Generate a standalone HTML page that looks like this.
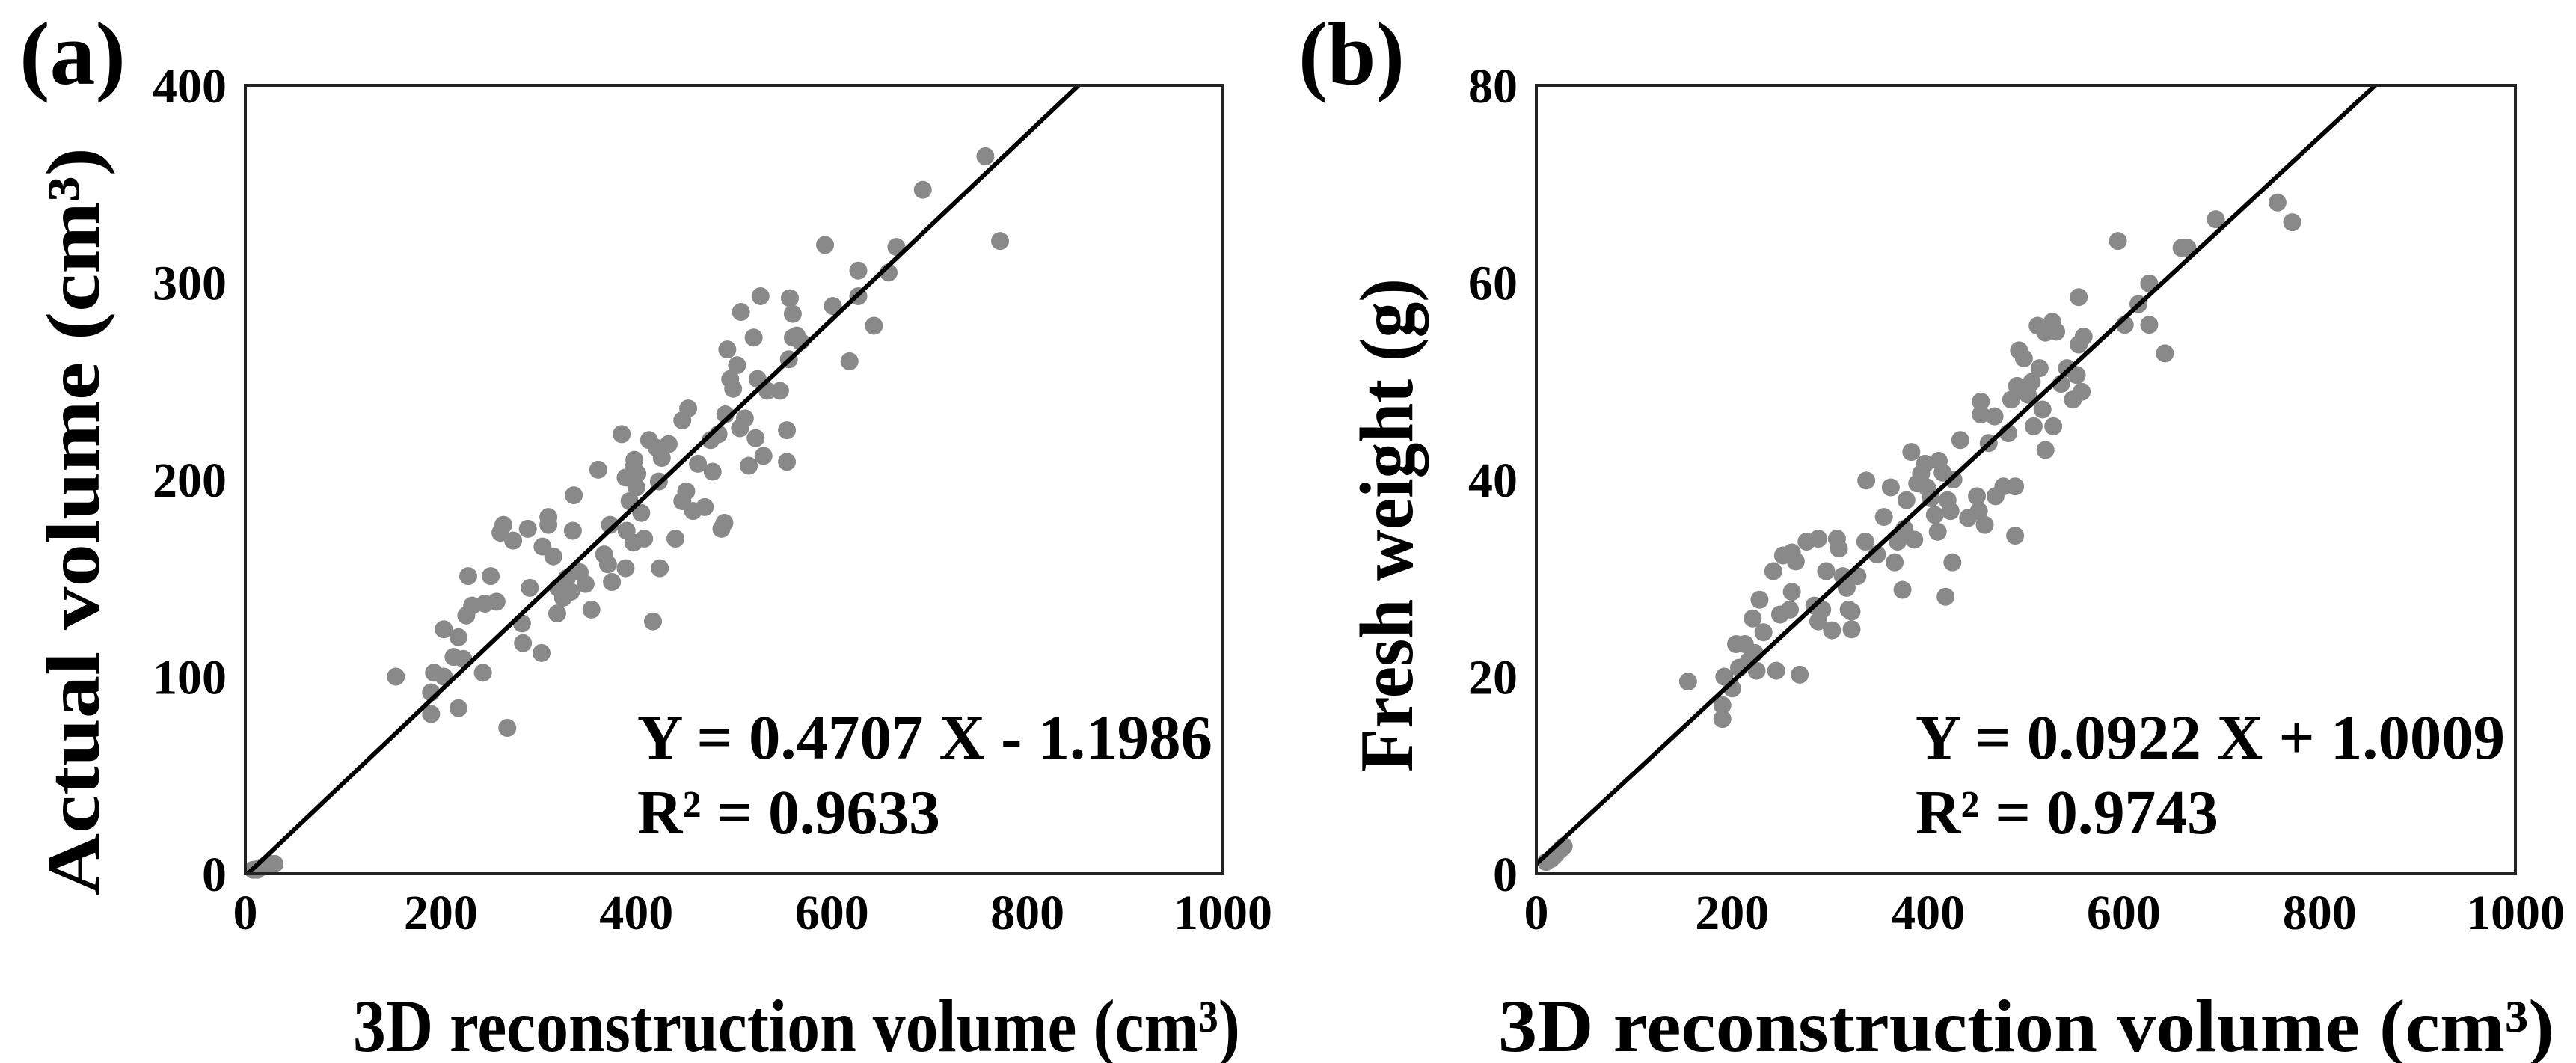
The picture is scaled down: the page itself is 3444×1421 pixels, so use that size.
<!DOCTYPE html>
<html><head><meta charset="utf-8"><style>
html,body{margin:0;padding:0;background:#fff;}
svg{display:block;font-family:"Liberation Serif","Times New Roman",serif;font-weight:bold;}
</style></head><body>
<svg id="fig" width="3444" height="1421" viewBox="0 0 3444 1421" xmlns="http://www.w3.org/2000/svg">
<rect x="0" y="0" width="3444" height="1421" fill="#fff"/>
<g id="panelA"></g>
<g id="panelB"></g>
</svg>
<script>
const xTicks = [0,200,400,600,800,1000];
const yTicksA = [0,100,200,300,400];
const yTicksB = [0,20,40,60,80];
const xa = [154,193,203,190,190,218,203,218,226,228,232,245,251,257,261,264,274,289,243,268,213,223,283,284,291,303,304,310,310,315,319,320,325,329,333,336,335,342,348,354,361,367,371,375,373,385,389,390,389,393,397,398,400,401,405,408,397,413,417,421,424,423,426,433,440,447,453,451,447,458,463,470,476,478,484,487,490,491,493,496,499,503,506,511,507,515,520,522,527,530,524,534,547,554,554,557,560,556,560,564,568,593,601,618,627,627,643,658,666,693,757,772,8,15,20,25,30,12];
const ya = [100,102,100,92,81,84,124,120,131,151,136,137,151,138,173,177,169,175,102,74,110,109,127,117,145,112,166,181,177,161,132,145,140,150,143,192,174,153,147,134,205,162,157,148,177,223,201,174,155,189,206,210,196,203,183,170,168,220,128,216,155,199,211,218,170,230,236,194,189,184,208,186,220,204,223,175,178,233,266,251,246,258,226,231,285,207,272,221,293,212,251,245,245,225,209,292,284,261,272,273,270,319,288,260,306,293,278,305,318,347,364,321,2,3,4,5,5,2];
const xb = [155,192,190,190,200,204,213,207,217,223,225,221,228,232,242,245,249,252,259,261,261,265,269,276,288,284,288,292,296,302,307,309,313,317,319,322,322,328,336,337,348,355,362,366,369,374,376,378,383,386,389,393,397,399,403,407,410,411,415,418,420,423,425,426,433,441,450,454,454,452,458,462,468,469,477,482,485,489,489,491,493,498,502,506,508,512,514,517,520,520,527,528,531,536,542,548,552,554,557,554,559,594,601,615,626,626,642,659,665,694,757,772,10,15,20,25,28,18];
const yb = [19.5,20,17.1,15.7,18.8,23.3,23.3,20.9,21.6,22.4,20.6,25.9,27.8,24.5,30.7,20.6,26.3,32.3,26.8,28.6,32.6,31.7,20.2,33.7,34,27.2,25.6,26.8,30.7,24.7,34,33,30.2,29,26.8,24.8,26.6,30.2,33.7,39.9,32.4,36.2,39.2,31.6,33.7,28.8,35,37.9,42.8,33.9,39.6,40.6,41.6,39.2,38.1,36.4,34.7,41.9,40.7,28.1,37.9,36.8,31.6,40,44,36.1,38.3,47.9,46.6,36.8,35.4,43.7,46.4,38.3,39.3,44.7,48.1,39.3,34.3,49.5,53.1,52.3,48.6,49.9,45.4,55.6,51.3,47.1,43,54.9,56,45.4,55,49.7,51.3,48.1,50.6,58.5,48.9,53.7,54.5,64.2,55.7,57.8,59.9,55.7,52.8,63.5,63.5,66.4,68.1,66.1,1.2,1.5,2,2.5,2.8,1.8];
const fitA = [0.4707,-1.1986];
const fitB = [0.0922,1.0009];

const NS = "http://www.w3.org/2000/svg";
function mk(tag, attrs, parent, text){
  const e = document.createElementNS(NS, tag);
  for (const k in attrs) e.setAttribute(k, attrs[k]);
  if (text !== undefined) e.textContent = text;
  parent.appendChild(e);
  return e;
}
function drawPanel(g, cfg){
  const L = cfg.left, R = cfg.right, T = 114, B = 1168;
  const xMax = 1000, yMax = cfg.yTicks[cfg.yTicks.length-1];
  const sx = v => L + v / xMax * (R - L);
  const sy = v => B - v / yMax * (B - T);
  const pts = mk('g', {}, g);
  
  
  cfg.xs.forEach((xv, i) => {
    const c = mk('circle', {cx: sx(xv), cy: sy(cfg.ys[i]), r: 12, fill: '#898989'}, pts);
    
    
  });
  const x0 = Math.max(0, -cfg.fit[1] / cfg.fit[0]);
  const x1 = Math.min(xMax, (yMax - cfg.fit[1]) / cfg.fit[0]);
  const ln = mk('line', {x1: sx(x0), y1: sy(cfg.fit[0]*x0+cfg.fit[1]), x2: sx(x1), y2: sy(cfg.fit[0]*x1+cfg.fit[1]), stroke: '#000', 'stroke-width': 6}, g);
  
  
  const fr = mk('rect', {x: L, y: T, width: R - L, height: B - T, fill: 'none', stroke: '#222', 'stroke-width': 4}, g);
  
  
  xTicks.forEach(t => {
    const e = mk('text', {x: sx(t), y: 1242, 'font-size': 66, 'text-anchor': 'middle'}, g, String(t));
    
    
  });
  cfg.yTicks.forEach(t => {
    const e = mk('text', {x: L - 25, y: sy(t) + 23, 'font-size': 66, 'text-anchor': 'end'}, g, String(t));
    
    
  });
  const pl = mk('text', {x: cfg.labelX, y: 112, 'font-size': 120, textLength: 142, lengthAdjust: 'spacingAndGlyphs'}, g, cfg.label);
  
  
  const xt = mk('text', {x: cfg.xtX, y: 1405, 'font-size': 100, textLength: cfg.xtLen, lengthAdjust: 'spacingAndGlyphs'}, g, '3D reconstruction volume (cm³)');
  
  
  const yt = mk('text', {x: 0, y: 0, 'font-size': 102, 'text-anchor': 'middle', textLength: cfg.ytLen, lengthAdjust: 'spacingAndGlyphs', transform: 'translate(' + cfg.ytX + ',' + cfg.ytY + ') rotate(-90)'}, g, cfg.yTitle);
  
  
  const eq = mk('text', {x: cfg.eqX, y: 1014, 'font-size': 84, textLength: cfg.eqLen, lengthAdjust: 'spacingAndGlyphs'}, g, cfg.eq);
  
  
  const r2 = mk('text', {x: cfg.eqX, y: 1114, 'font-size': 84, textLength: cfg.r2Len, lengthAdjust: 'spacingAndGlyphs'}, g, cfg.r2);
  
  
}
drawPanel(document.getElementById('panelA'), {
  left: 328, right: 1635, yTicks: yTicksA, xs: xa, ys: ya, fit: fitA,
  label: '(a)', labelX: 26, xtX: 472, xtLen: 1186,
  yTitle: 'Actual volume (cm³)', ytX: 132, ytY: 697, ytLen: 1000,
  eq: 'Y = 0.4707 X - 1.1986', eqX: 852, eqLen: 769, r2: 'R² = 0.9633', r2Len: 405
});
drawPanel(document.getElementById('panelB'), {
  left: 2054, right: 3363, yTicks: yTicksB, xs: xb, ys: yb, fit: fitB,
  label: '(b)', labelX: 1736, xtX: 2003, xtLen: 1412,
  yTitle: 'Fresh weight (g)', ytX: 1888, ytY: 702, ytLen: 660,
  eq: 'Y = 0.0922 X + 1.0009', eqX: 2561, eqLen: 788, r2: 'R² = 0.9743', r2Len: 405
});
</script>
</body></html>
